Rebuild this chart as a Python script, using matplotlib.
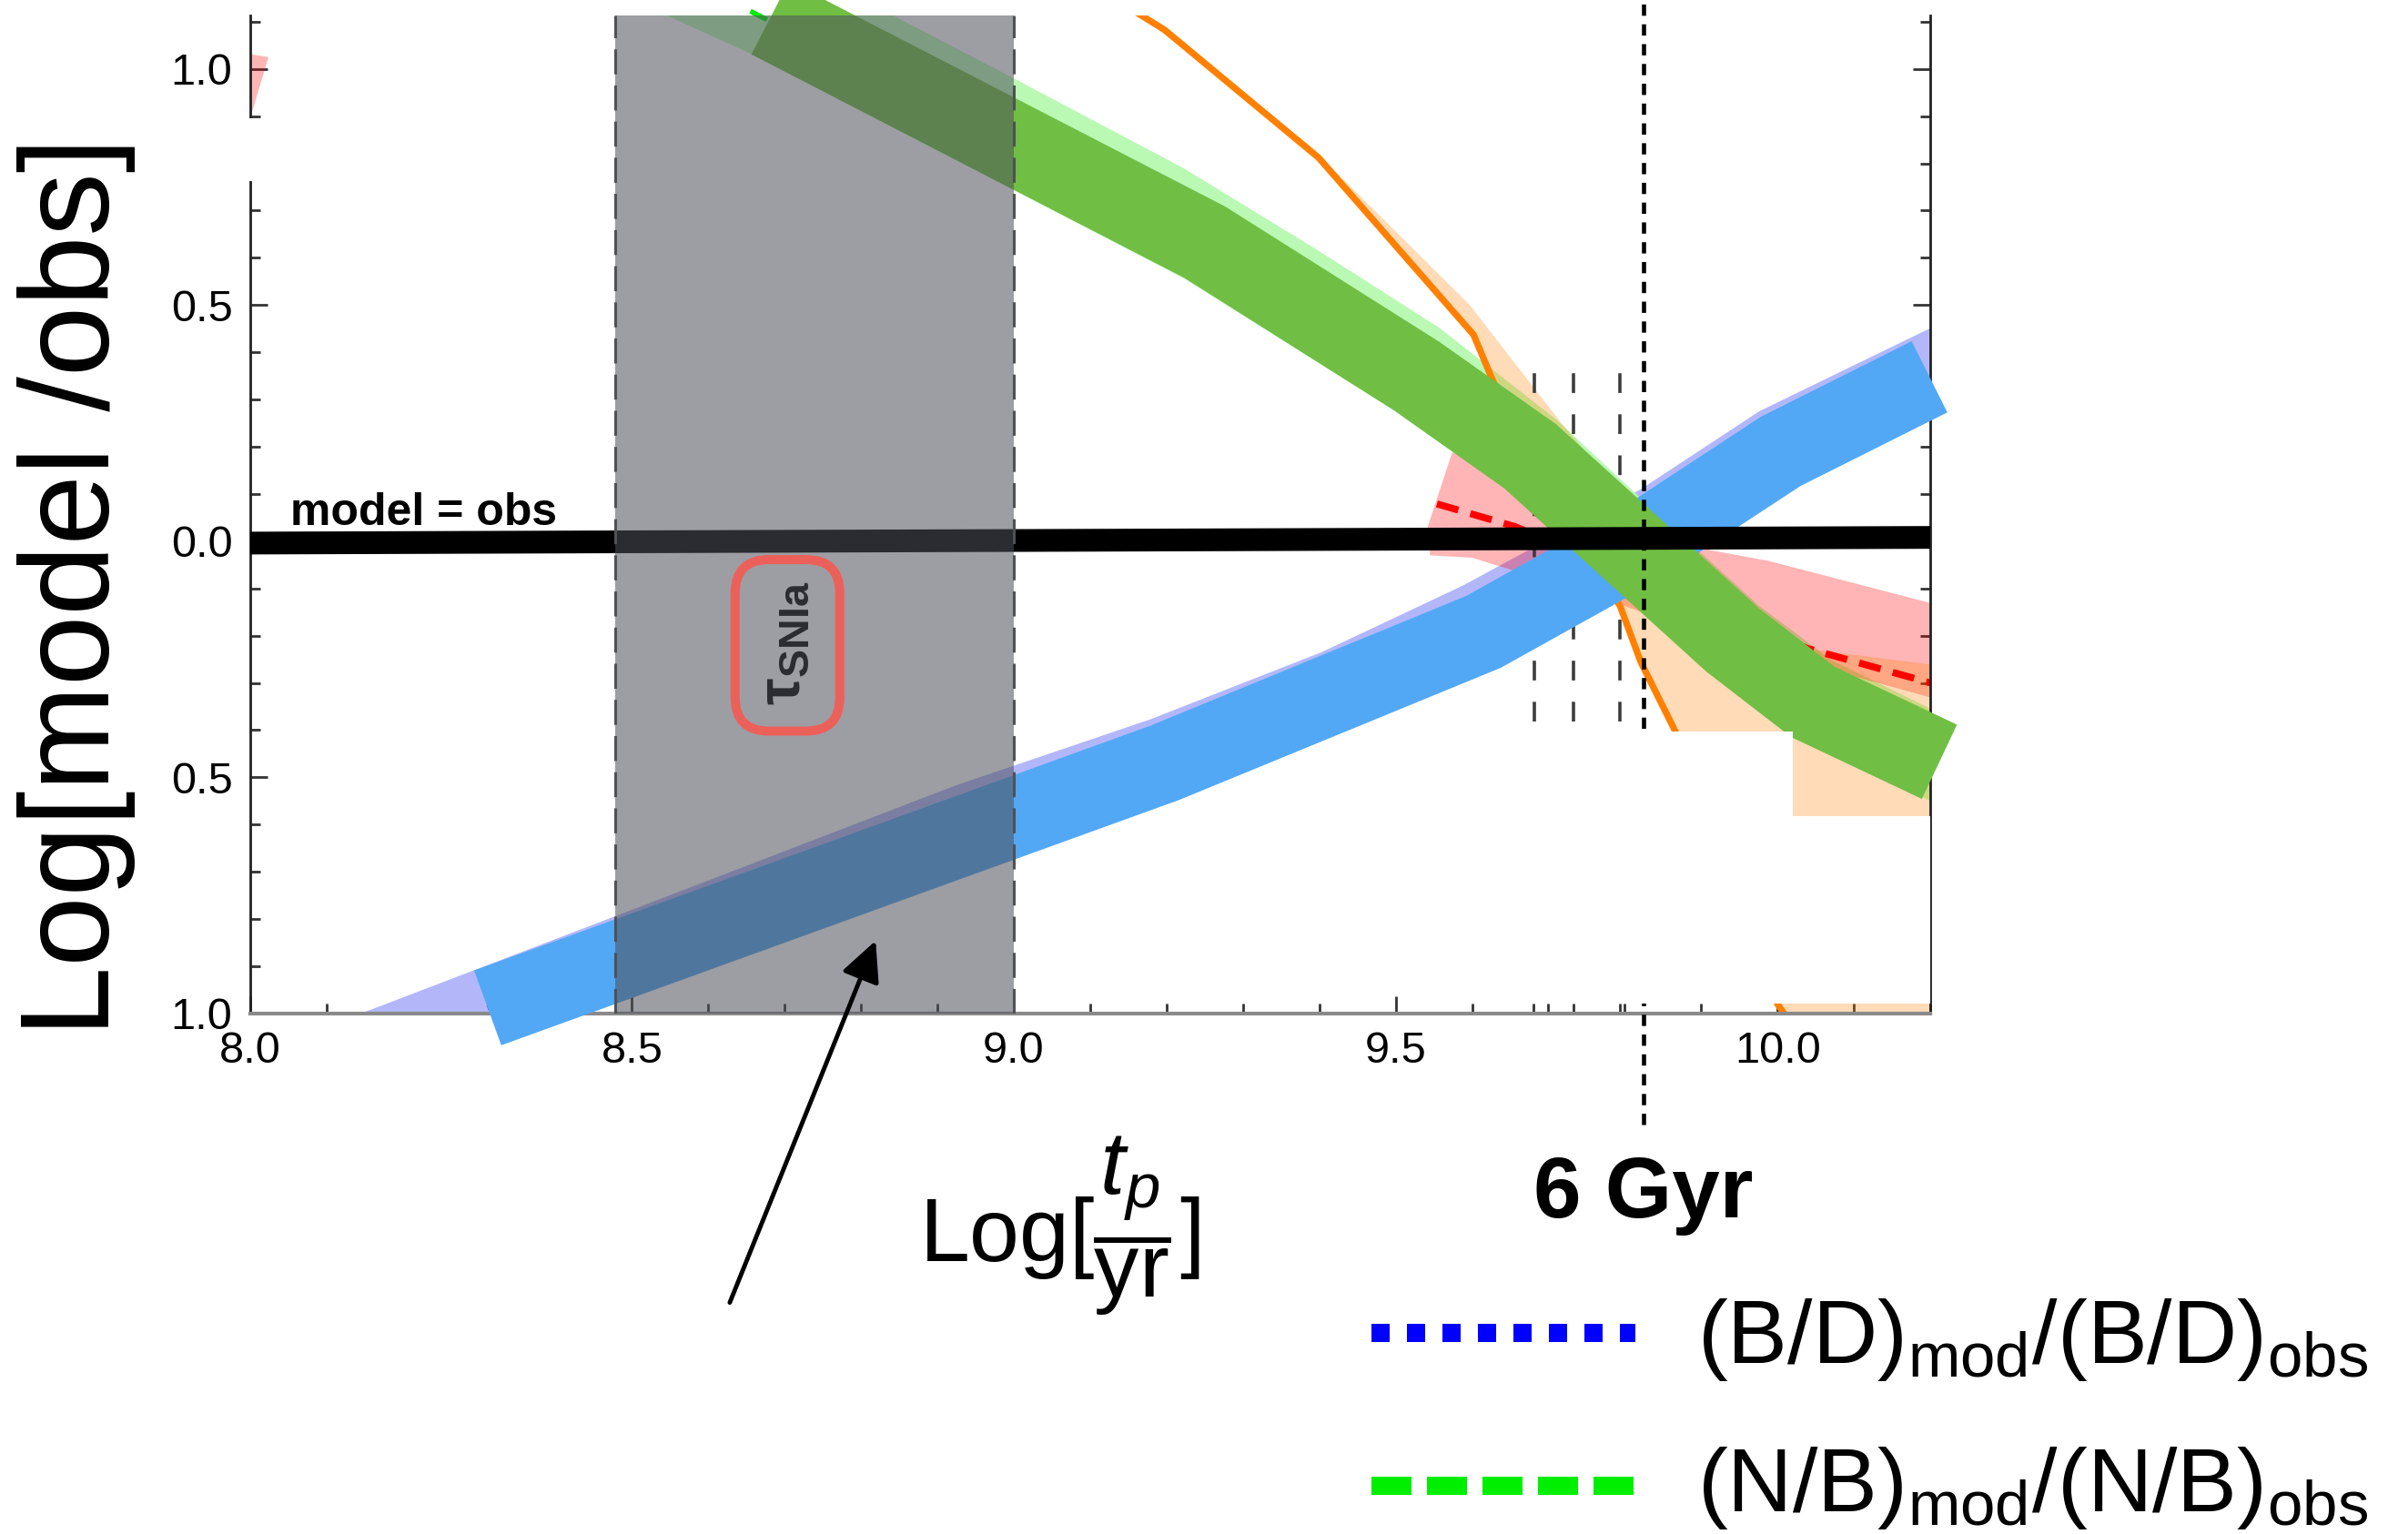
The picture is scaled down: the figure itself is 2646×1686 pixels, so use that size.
import numpy as np
import matplotlib
matplotlib.use("Agg")
import matplotlib.pyplot as plt
from matplotlib.lines import Line2D
from matplotlib.patches import FancyBboxPatch, Rectangle

plt.rcParams['font.family'] = ['Liberation Sans', 'DejaVu Sans']
plt.rcParams['mathtext.fontset'] = 'custom'
plt.rcParams['mathtext.rm'] = 'Liberation Sans'
plt.rcParams['mathtext.it'] = 'Liberation Sans:italic'
plt.rcParams['mathtext.bf'] = 'Liberation Sans:bold'

##-----------DATA-----------##
# (B/D)mod/(B/D)obs : thick band centre line
bd_x = [8.311, 9.198, 9.615, 9.807, 10.004, 10.199]
bd_y = [-0.988, -0.469, -0.192, -0.019, 0.190, 0.348]
# its lavender error band (upper edge, then lower edge back)
lav_up_x = [8.145, 8.478, 8.924, 9.179, 9.403, 9.588, 9.821, 9.976, 10.209]
lav_up_y = [-1.000, -0.794, -0.517, -0.377, -0.235, -0.094, 0.110, 0.275, 0.458]
lav_lo_x = [10.21, 10.00, 9.80, 9.61, 9.20, 8.40, 8.30, 8.145]
lav_lo_y = [0.35, 0.19, -0.02, -0.20, -0.47, -0.94, -1.05, -1.05]

# (N/B)mod/(N/B)obs : thick band centre line
nb_x = [8.681, 9.250, 9.527, 9.676, 9.942, 10.046, 10.212]
nb_y = [1.108, 0.633, 0.350, 0.180, -0.210, -0.340, -0.467]
nb_line_x = [8.655, 9.250, 9.527, 9.676, 9.942, 10.046, 10.200]
nb_line_y = [1.122, 0.633, 0.350, 0.180, -0.210, -0.340, -0.460]
# light green error band
lg_up_x = [8.830, 9.001, 9.222, 9.399, 9.557, 9.710, 9.819, 9.976, 10.071, 10.211]
lg_up_y = [1.123, 0.979, 0.790, 0.615, 0.452, 0.258, 0.094, -0.137, -0.252, -0.363]
lg_lo_x = [10.211, 10.021, 9.907, 9.642, 9.498, 9.223, 8.657, 8.532]
lg_lo_y = [-0.558, -0.417, -0.277, 0.112, 0.277, 0.556, 1.031, 1.123]

# orange curve and its shading
or_x = [9.157, 9.197, 9.399, 9.602, 9.629, 9.794, 9.821, 9.866, 10.000, 10.030]
or_y = [1.123, 1.083, 0.812, 0.437, 0.333, -0.138, -0.256, -0.402, -0.980, -1.050]
pe_up_x = [9.157, 9.384, 9.597, 9.715, 9.800, 9.900, 10.210, 10.210]
pe_up_y = [1.123, 0.842, 0.500, 0.254, 0.090, -0.200, -0.263, -1.050]

# red dashed curve and pink shading
rd_x = [9.554, 9.656, 10.039, 10.209]
rd_y = [0.079, 0.031, -0.227, -0.304]
pk_x = [9.574, 9.912, 9.989, 10.210, 10.210, 9.950, 9.750, 9.660, 9.600, 9.545, 9.542]
pk_y = [0.188, -0.019, -0.042, -0.135, -0.335, -0.220, -0.110, -0.065, -0.035, -0.030, 0.031]
ps_x = [8.0, 8.024, 8.0]
ps_y = [1.031, 1.025, 0.896]

# model = obs
eq_x = [8.0, 10.2]
eq_y = [-0.004, 0.008]

# markers
snia_lo, snia_hi = 8.478, 9.0
thr_x = [9.682, 9.733, 9.794]
thr_lo, thr_hi = -0.381, 0.363
gyr6_x = 9.825

# pasted-over white area
wp_x = [9.60, 10.02, 10.02, 10.21, 10.21, 9.60]
wp_y = [-0.402, -0.402, -0.583, -0.583, -0.979, -0.979]

# ticks
x_major = [8.0, 8.5, 9.0, 9.5, 10.0]
x_labels = ['8.0', '8.5', '9.0', '9.5', '10.0']
x_minor = [8.1, 8.2, 8.3, 8.4, 8.6, 8.7, 8.8, 8.9, 9.1, 9.2, 9.3, 9.4,
           9.6, 9.68, 9.7, 9.733, 9.793, 9.8, 9.9, 10.1, 10.2]
y_major = [-1.0, -0.5, 0.0, 0.5, 1.0]
y_labels = ['1.0', '0.5', '0.0', '0.5', '1.0']
y_minor = [-0.9, -0.8, -0.7, -0.6, -0.4, -0.3, -0.2, -0.1,
           0.1, 0.2, 0.3, 0.4, 0.6, 0.7, 0.8, 0.9, 1.1]

##-----------FIGURE-----------##
fig = plt.figure(figsize=(26.46, 16.86), dpi=100)
ax = fig.add_axes([0.1039, 0.3393, 0.6977, 0.6506])
ax.set_xlim(8.0, 10.2)
ax.set_ylim(-1.0, 1.113)

# shaded error bands
ax.fill(lav_up_x + lav_lo_x, lav_up_y + lav_lo_y, color='#b3b7fa', lw=0, zorder=2.0)
ax.fill(lg_up_x + lg_lo_x, lg_up_y + lg_lo_y, color='#baf9b4', lw=0, zorder=2.05)
ax.fill(pk_x, pk_y, color='red', alpha=0.29, lw=0, zorder=2.1)
ax.fill(ps_x, ps_y, color='red', alpha=0.29, lw=0, zorder=2.1)
ax.fill(pe_up_x + or_x[::-1], pe_up_y + or_y[::-1], color='#ff8000', alpha=0.28, lw=0, zorder=2.2)

# thin curves
ax.plot(or_x, or_y, color='#ff8000', lw=5.2, zorder=2.3)
ax.plot(rd_x, rd_y, color='red', lw=5.5, ls=(0, (3.2, 1.8)), zorder=2.4)
ax.plot(bd_x, bd_y, color='blue', lw=4, ls=':', zorder=2.45)
ax.plot(nb_line_x, nb_line_y, color='#00ee00', lw=4, ls='--', zorder=2.45, clip_on=False)
ax.vlines(thr_x, thr_lo, thr_hi, colors='#3c3c3c', lw=2.6, linestyles=(0, (6, 6.5)), zorder=2.6)

# thick bands
ax.plot(bd_x, bd_y, color='#52a8f5', lw=63, solid_capstyle='butt',
        solid_joinstyle='miter', clip_on=False, zorder=3.0)
ax.plot(nb_x, nb_y, color='#70be44', lw=65, solid_capstyle='butt',
        solid_joinstyle='miter', clip_on=False, zorder=3.1)
ax.plot(eq_x, eq_y, color='black', lw=18, solid_capstyle='butt', zorder=3.2)
ax.text(8.052, 0.035, 'model = obs', fontsize=36, fontweight='bold', va='baseline', zorder=3.2)

# 6 Gyr line
ax.plot([gyr6_x, gyr6_x], [-1.235, 1.15], color='black', lw=3.3, ls=(0, (2.7, 2.05)),
        clip_on=False, zorder=3.3)
ax.fill(wp_x, wp_y, color='white', lw=0, zorder=3.4)

# SNIa delay time box
ax.text(8.699, -0.215, r'τ$_{\mathbf{SNIa}}$', rotation=90, fontsize=48, fontweight='bold',
        ha='center', va='center', color='black', zorder=3.9)
ax.axvspan(snia_lo, snia_hi, color=(78/255, 81/255, 89/255), alpha=0.553, lw=0, zorder=4)
for xv in [snia_lo, snia_hi]:
    ax.axvline(xv, color='#505055', lw=2.2, ls=(0, (9, 4)), zorder=4.1)
ax.add_patch(FancyBboxPatch((8.635, -0.402), 0.137, 0.363,
                            boxstyle='round,pad=0,rounding_size=0.044',
                            mutation_aspect=839/519, fill=False,
                            ec='#ec605a', lw=7.2, zorder=4.2))
ax.annotate('', xy=(8.819, -0.846), xytext=(8.628, -1.612),
            arrowprops=dict(arrowstyle='-|>,head_length=0.45,head_width=0.22',
                            color='black', lw=3.5, shrinkA=0, shrinkB=0, mutation_scale=60),
            annotation_clip=False, zorder=6)

# axes styling
ax.spines['top'].set_visible(False)
for s in ['left', 'right']:
    ax.spines[s].set_color('#222222')
    ax.spines[s].set_linewidth(2)
ax.spines['bottom'].set_color('#8a8a8a')
ax.spines['bottom'].set_linewidth(3)
ax.set_xticks(x_major)
ax.set_xticklabels(x_labels)
ax.set_xticks(x_minor, minor=True)
ax.set_yticks(y_major)
ax.set_yticklabels(y_labels)
ax.set_yticks(y_minor, minor=True)
ax.tick_params(which='both', direction='in', right=True, top=False, width=2, color='#333333')
ax.tick_params(which='major', length=14, labelsize=35, pad=14)
ax.tick_params(which='minor', length=8)
# gap in the left axis
ax.add_patch(Rectangle((7.985, 0.763), 0.045, 0.133, color='white', lw=0,
                       clip_on=False, zorder=6))

# labels
fig.text(0.0317, 0.6174, 'Log[model /obs]', rotation=90, fontsize=100, ha='center', va='center')
fig.text(0.4399, 0.2011, r'Log[$\dfrac{t_p}{\mathregular{yr}}$]', fontsize=71, ha='center', va='center')
fig.text(0.6825, 0.2064, '6 Gyr', fontsize=68, fontweight='bold', ha='center', va='baseline')

# legend
fig.add_artist(Line2D([0.5695, 0.6791], [0.1311, 0.1311], transform=fig.transFigure,
                      color='blue', lw=14.4, ls=(0, (1.0, 0.95))))
fig.add_artist(Line2D([0.5695, 0.6791], [0.0314, 0.0314], transform=fig.transFigure,
                      color='#00ee00', lw=14.4, ls=(0, (2.2, 0.85))))
fig.text(0.7048, 0.1115, r'(B/D)$_{\mathregular{mod}}$/(B/D)$_{\mathregular{obs}}$',
         fontsize=71, va='baseline')
fig.text(0.7048, 0.0148, r'(N/B)$_{\mathregular{mod}}$/(N/B)$_{\mathregular{obs}}$',
         fontsize=71, va='baseline')

fig.savefig('out.png', dpi=100)
